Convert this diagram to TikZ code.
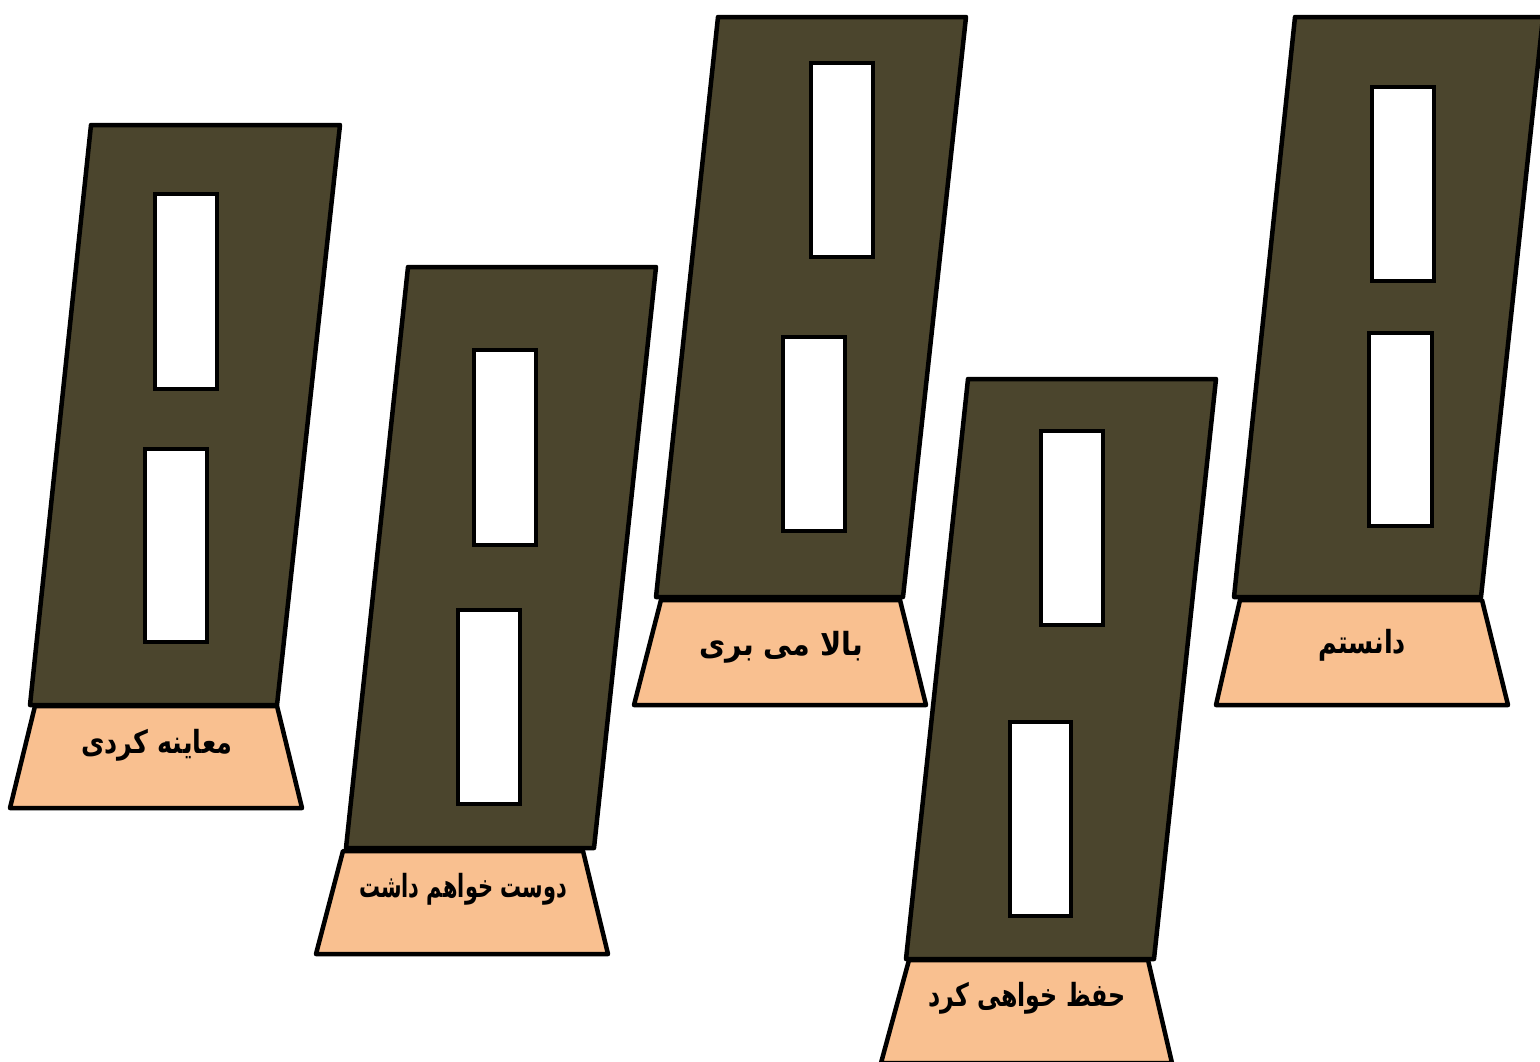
\documentclass[tikz,border=0pt]{standalone}
\usepackage{fontspec}
\usepackage{graphicx}
\TeXXeTstate=1
\newfontfamily\fafont[Script=Arabic]{DejaVu Sans}
\definecolor{towerfill}{HTML}{4B452D}
\definecolor{basefill}{HTML}{F9C090}
\newcommand\falabel[2][1]{\scalebox{#1}[1.25]{\beginR #2\endR}}
\tikzset{
  towerbody/.style={draw=black,line width=4.5pt,line join=round,fill=towerfill},
  towerwin/.style={draw=black,line width=4.5pt,fill=white},
  towerbase/.style={draw=black,line width=4.5pt,line join=round,fill=basefill},
  baselabel/.style={font=\fafont\bfseries\fontsize{25.5}{30}\selectfont,inner sep=0pt}
}
\begin{document}
\begin{tikzpicture}[x=1pt,y=-1pt]
\useasboundingbox (0,0) rectangle (1540,1061);
\clip (0,0) rectangle (1540,1061);
% tower 1
\draw[towerbase] (35,706) -- (277,706) -- (302,808) -- (10,808) -- cycle;
\draw[towerbody] (91,125) -- (340,125) -- (277,705) -- (30,705) -- cycle;
\draw[towerwin] (155,194) rectangle (217,389);
\draw[towerwin] (145,449) rectangle (207,642);
\node[baselabel] (t1) at (157,745) {\falabel{معاینه کردی}};
% tower 2
\draw[towerbase] (343,851) -- (583,851) -- (608,954) -- (316,954) -- cycle;
\draw[towerbody] (408,267) -- (656,267) -- (594,848) -- (346,848) -- cycle;
\draw[towerwin] (474,350) rectangle (536,545);
\draw[towerwin] (458,610) rectangle (520,804);
\node[baselabel] (t2) at (463,889) {\falabel[0.82]{دوست خواهم داشت}};
% tower 3
\draw[towerbase] (661,600) -- (900,600) -- (926,705) -- (634,705) -- cycle;
\draw[towerbody] (718,17) -- (966,17) -- (903,597) -- (656,597) -- cycle;
\draw[towerwin] (811,63) rectangle (873,257);
\draw[towerwin] (783,337) rectangle (845,531);
\node[baselabel] (t3) at (781,647) {\falabel[1.12]{بالا می بری}};
% tower 4
\draw[towerbase] (909,960) -- (1148,960) -- (1172,1063) -- (881,1063) -- cycle;
\draw[towerbody] (968,379) -- (1216,379) -- (1154,959) -- (906,959) -- cycle;
\draw[towerwin] (1041,431) rectangle (1103,625);
\draw[towerwin] (1010,722) rectangle (1071,916);
\node[baselabel] (t4) at (1027,998) {\falabel[0.93]{حفظ خواهی کرد}};
% tower 5
\draw[towerbase] (1240,600) -- (1482,600) -- (1508,705) -- (1216,705) -- cycle;
\draw[towerbody] (1295,17) -- (1543,17) -- (1481,597) -- (1234,597) -- cycle;
\draw[towerwin] (1372,87) rectangle (1434,281);
\draw[towerwin] (1369,333) rectangle (1432,526);
\node[baselabel] (t5) at (1362,645) {\falabel{دانستم}};
\end{tikzpicture}
\end{document}
